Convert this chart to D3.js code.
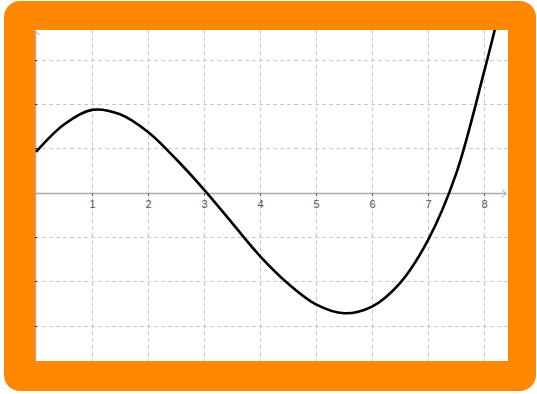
<!DOCTYPE html>
<html>
<head>
<meta charset="utf-8">
<script src="https://cdn.jsdelivr.net/npm/d3@7"></script>
<style>
body{margin:0;background:#fff;}
svg{display:block;}
</style>
</head>
<body>
<div id="chart"></div>
<script>
// curve values (x units, y in grid units)

var xTicks=[1,2,3,4,5,6,7,8];
var yTicks=[-3,-2,-1,1,2,3];
var curveX=[0,0.5,1,1.5,2,2.5,3,3.5,4,4.5,5,5.5,6,6.5,7,7.5,8,8.2];
var curveY=[0.92,1.54,1.87,1.77,1.37,0.76,0.07,-0.68,-1.43,-2.05,-2.52,-2.72,-2.57,-2.04,-1.07,0.42,2.72,3.72];

w=537;h=394;
var inner={x0:35,x1:508,y0:30,y1:361};

var svg=d3.select("#chart").append("svg").attr("width",w).attr("height",h);

var x=d3.scaleLinear().domain([0,8]).range([36,484]);
var y=d3.scaleLinear().domain([0,1]).range([192.7,148.4]);

// frame
svg.append("rect").attr("x",4).attr("y",1).attr("width",532).attr("height",390)
	.attr("rx",16).attr("ry",16).style("fill","#ff8800");
svg.append("rect").attr("x",inner.x0).attr("y",inner.y0)
	.attr("width",inner.x1-inner.x0).attr("height",inner.y1-inner.y0).style("fill","#fff");

svg.append("clipPath").attr("id","clip").append("rect")
	.attr("x",inner.x0).attr("y",inner.y0)
	.attr("width",inner.x1-inner.x0).attr("height",inner.y1-inner.y0);

var g=svg.append("g").attr("clip-path","url(#clip)");

// grid
g.selectAll(".vgrid").data(xTicks).enter().append("line")
	.attr("x1",function(d){return x(d)+0.5;}).attr("x2",function(d){return x(d)+0.5;})
	.attr("y1",inner.y0).attr("y2",inner.y1)
	.style("stroke","#c8c8c8").style("stroke-dasharray","4 3");
g.selectAll(".hgrid").data(yTicks).enter().append("line")
	.attr("y1",function(d){return Math.round(y(d))+0.5;}).attr("y2",function(d){return Math.round(y(d))+0.5;})
	.attr("x1",inner.x0).attr("x2",inner.x1)
	.style("stroke","#c8c8c8").style("stroke-dasharray","4 3");

// axes
var ax=Math.round(y(0))+0.5;
g.append("line").attr("x1",inner.x0).attr("x2",506).attr("y1",ax).attr("y2",ax)
	.style("stroke","#aaa").style("stroke-width",1.5);
g.append("path").attr("d","M502,"+(ax-4)+" L506,"+ax+" L502,"+(ax+4))
	.style("fill","none").style("stroke","#999");
g.append("line").attr("x1",35.5).attr("x2",35.5).attr("y1",31).attr("y2",inner.y1)
	.style("stroke","#aaa").style("stroke-width",1.5);
g.append("path").attr("d","M31.5,35 L35.5,31 L39.5,35")
	.style("fill","none").style("stroke","#999");

g.selectAll(".xtick").data(xTicks).enter().append("line")
	.attr("x1",function(d){return x(d)+0.5;}).attr("x2",function(d){return x(d)+0.5;})
	.attr("y1",ax).attr("y2",ax+2.5).style("stroke","#555");
g.selectAll(".ytick").data(yTicks).enter().append("line")
	.attr("y1",function(d){return Math.round(y(d))+0.5;}).attr("y2",function(d){return Math.round(y(d))+0.5;})
	.attr("x1",34).attr("x2",37).style("stroke","#333");

g.selectAll(".xlab").data(xTicks).enter().append("text")
	.attr("x",function(d){return x(d)+0.5;}).attr("y",ax+14)
	.attr("text-anchor","middle")
	.style("font-family","'Liberation Sans',Arial,sans-serif").style("font-size","11px").style("fill","#555")
	.text(function(d){return d;});

// curve
var pts=curveX.map(function(d,i){return [d,curveY[i]];});
g.append("path").datum(pts)
	.attr("d",d3.line().x(function(d){return x(d[0]);}).y(function(d){return y(d[1]);}).curve(d3.curveCatmullRom))
	.style("fill","none").style("stroke","#000").style("stroke-width",2.6);
</script>
</body>
</html>
